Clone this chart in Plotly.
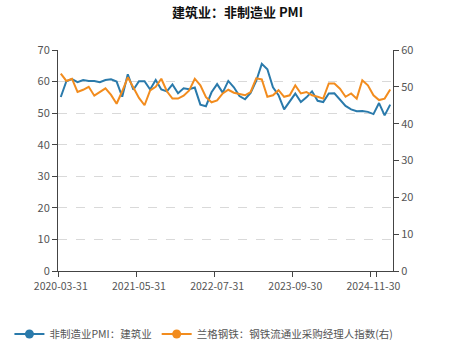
import plotly.graph_objects as go
import pandas as pd

dates = [d.strftime("%Y-%m-%d") for d in pd.date_range("2020-03-31", "2025-02-28", freq="ME")]

construction_pmi = [
    55.1, 60.1, 60.8, 59.8, 60.5, 60.2, 60.2, 59.8, 60.5, 60.7,
    60.0, 55.2, 62.3, 57.4, 60.1, 60.1, 57.5, 60.5, 57.5, 56.9, 59.1, 56.3,
    57.9, 57.6, 58.1, 52.7, 52.2, 56.6, 59.2, 56.5, 60.2, 58.2, 55.4, 54.4,
    56.4, 60.2, 65.6, 63.9, 58.2, 55.7, 51.2, 53.8, 56.2, 53.5, 55.0, 56.9,
    53.9, 53.5, 56.2, 56.3, 54.4, 52.3, 51.2, 50.6, 50.7, 50.4, 49.7, 53.2,
    49.3, 52.7,
]

steel_pmi = [
    53.6, 51.6, 52.2, 48.6, 49.2, 50.0, 47.6, 48.6, 49.6, 47.8,
    45.4, 48.8, 52.6, 49.8, 47.0, 45.0, 49.0, 50.0, 52.2, 48.8, 46.8, 46.8,
    47.6, 49.0, 52.2, 50.4, 47.2, 45.8, 46.3, 48.2, 49.2, 48.4, 48.0, 47.7,
    48.6, 52.3, 52.0, 47.3, 47.7, 49.1, 47.3, 47.7, 50.4, 48.2, 48.6, 47.7,
    47.3, 46.8, 50.9, 50.9, 49.5, 47.3, 48.2, 46.8, 51.8, 50.4, 47.7, 46.4,
    46.8, 49.3,
]

tick_labels = ["2020-03-31", "2021-05-31", "2022-07-31", "2023-09-30", "2024-11-30"]
series_names = ["非制造业PMI：建筑业", "兰格钢铁：钢铁流通业采购经理人指数(右)"]

blue = "#2a7aab"
orange = "#f28c1e"
axis_col = "#444444"
txt_col = "#555555"
font_fam = "Noto Sans CJK SC, Noto Sans, sans-serif"

fig = go.Figure()
fig.add_trace(go.Scatter(
    x=dates, y=construction_pmi, mode="lines", name=series_names[0],
    line=dict(color=blue, width=2), yaxis="y", showlegend=False,
))
fig.add_trace(go.Scatter(
    x=dates, y=steel_pmi, mode="lines", name=series_names[1],
    line=dict(color=orange, width=2), yaxis="y2", showlegend=False,
))
# legend entries (line with dot)
for nm, col, ax in [(series_names[0], blue, "y"), (series_names[1], orange, "y2")]:
    fig.add_trace(go.Scatter(
        x=[None], y=[None], mode="lines+markers", name=nm, yaxis=ax,
        line=dict(color=col, width=2), marker=dict(color=col, size=9),
    ))

fig.update_layout(
    width=475, height=351,
    margin=dict(l=58, r=82, t=50, b=80, autoexpand=False),
    paper_bgcolor="white", plot_bgcolor="white",
    font=dict(family=font_fam, size=11, color=txt_col),
    title=dict(text="<b>建筑业：非制造业 PMI</b>", x=0.5, xanchor="center", y=0.965, yanchor="middle",
               font=dict(size=13, color="#111111", family=font_fam)),
    showlegend=True,
    legend=dict(orientation="h", x=-0.145, y=-0.285, xanchor="left", yanchor="middle",
                font=dict(size=10.5, color=txt_col), itemwidth=30, tracegroupgap=0,
                bgcolor="rgba(0,0,0,0)"),
    xaxis=dict(
        type="category", range=[-0.5, len(dates) - 0.5],
        tickvals=[dates[i] for i in range(0, len(dates), 14)],
        ticktext=tick_labels,
        tickson="boundaries", tickangle=0,
        ticks="outside", ticklen=5, tickcolor=axis_col,
        ticklabelstandoff=5,
        showline=True, linecolor=axis_col, linewidth=1,
        showgrid=False, zeroline=False,
        tickfont=dict(size=10.5, color=txt_col),
    ),
    yaxis=dict(
        range=[0, 70], dtick=10, ticks="outside", ticklen=5, tickcolor=axis_col,
        showline=True, linecolor=axis_col, linewidth=1,
        showgrid=True, gridcolor="#d9d9d9", griddash="dash", gridwidth=1,
        zeroline=False, tickfont=dict(size=11, color=txt_col),
    ),
    yaxis2=dict(
        range=[0, 60], dtick=10, overlaying="y", side="right",
        ticks="outside", ticklen=5, tickcolor=axis_col,
        showline=True, linecolor=axis_col, linewidth=1,
        showgrid=False, zeroline=False, tickfont=dict(size=11, color=txt_col),
    ),
)

fig.write_html("out.html")
